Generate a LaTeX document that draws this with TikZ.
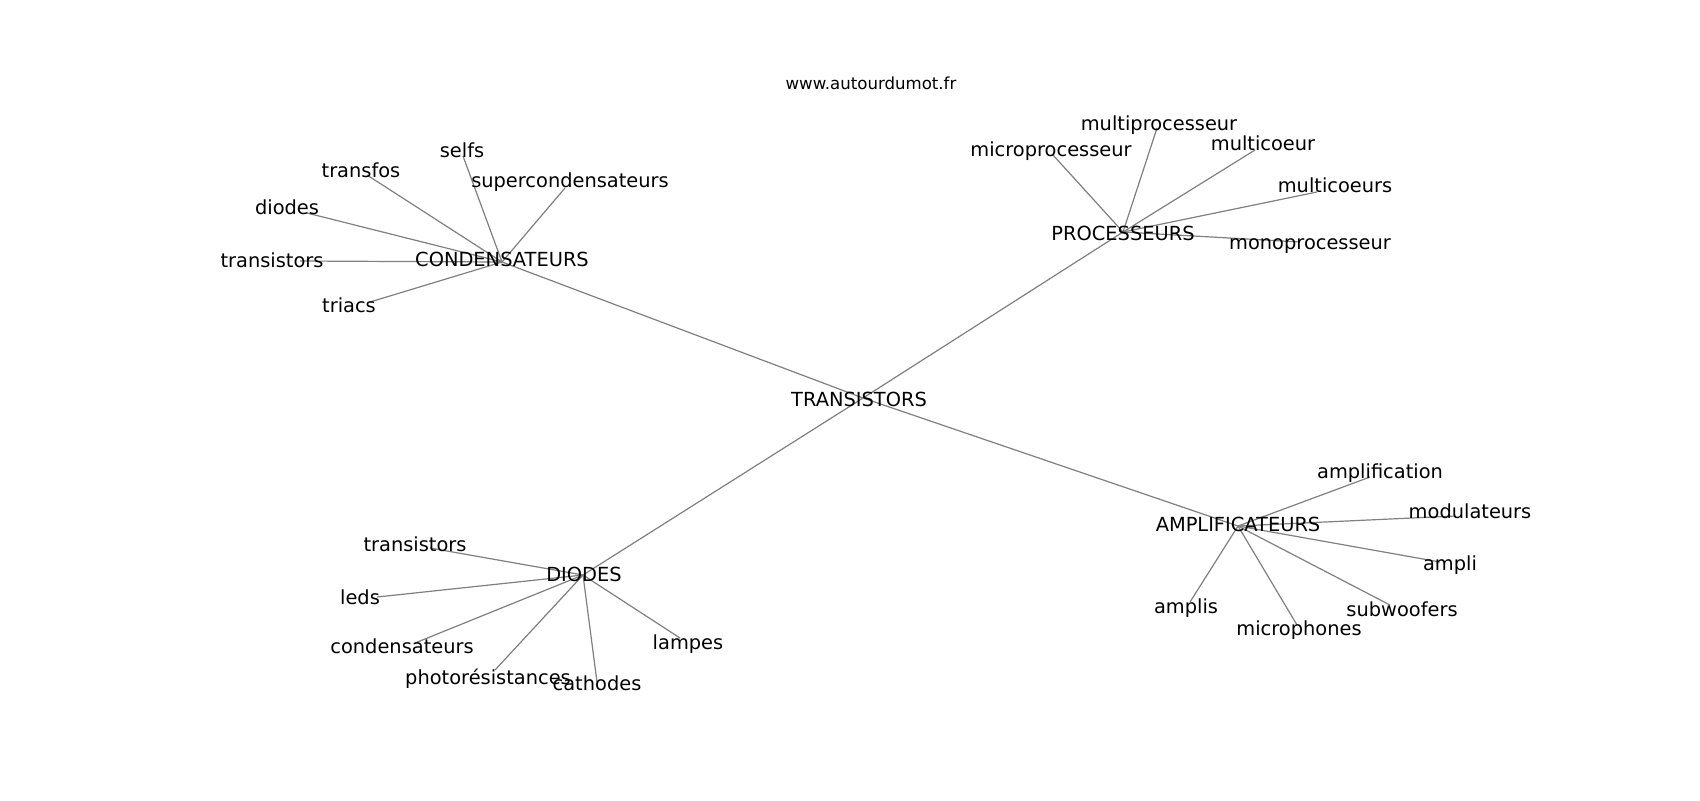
\documentclass[tikz,border=0pt]{standalone}
\usepackage{fontspec}
\setmainfont{DejaVu Sans}
\usetikzlibrary{backgrounds}
\begin{document}
\begin{tikzpicture}[x=0.5pt,y=-0.5pt,
  lbl/.style={inner sep=0pt,anchor=center,font=\fontsize{9.7}{11}\selectfont},
  ttl/.style={inner sep=0pt,anchor=center,font=\fontsize{8.3}{10}\selectfont},
  edge/.style={draw=black!50,line width=0.6pt}]
\useasboundingbox (0,0) rectangle (1700,800);
\node[ttl] (title) at (871,83) {www.autourdumot.fr};
% hub labels
\node[lbl] (T) at (859,399) {TRANSISTORS};
\node[lbl] (C) at (502,259) {CONDENSATEURS};
\node[lbl] (P) at (1123,233) {PROCESSEURS};
\node[lbl] (D) at (584,574) {DIODES};
\node[lbl] (A) at (1238,524) {AMPLIFICATEURS};
% condensateurs
\node[lbl] (c1) at (462,150) {selfs};
\node[lbl] (c2) at (361,170) {transfos};
\node[lbl] (c3) at (570,182) {supercondensateurs};
\node[lbl] (c4) at (287,207) {diodes};
\node[lbl] (c5) at (272,260) {transistors};
\node[lbl] (c6) at (349,305) {triacs};
% processeurs
\node[lbl] (p1) at (1051,151) {microprocesseur};
\node[lbl] (p2) at (1159,125) {multiprocesseur};
\node[lbl] (p3) at (1263,143) {multicoeur};
\node[lbl] (p4) at (1335,185) {multicoeurs};
\node[lbl] (p5) at (1310,246) {monoprocesseur};
% diodes
\node[lbl] (d1) at (415,544) {transistors};
\node[lbl] (d2) at (360,597) {leds};
\node[lbl] (d3) at (402,646) {condensateurs};
\node[lbl] (d4) at (488,679) {photorésistances};
\node[lbl] (d5) at (597,683) {cathodes};
\node[lbl] (d6) at (688,644) {lampes};
% amplificateurs
\node[lbl] (a1) at (1380,473) {amplification};
\node[lbl] (a2) at (1470,511) {modulateurs};
\node[lbl] (a3) at (1450,565) {ampli};
\node[lbl] (a4) at (1186,608) {amplis};
\node[lbl] (a5) at (1299,630) {microphones};
\node[lbl] (a6) at (1402,609) {subwoofers};
% graph vertices (edge end points)
\coordinate (Te) at (863,398);
\coordinate (Ce) at (502,262);
\coordinate (Pe) at (1123,232);
\coordinate (De) at (583,575);
\coordinate (Ae) at (1238,526);
\coordinate (c1e) at (463,156);
\coordinate (c2e) at (367,175);
\coordinate (c3e) at (565,188);
\coordinate (c4e) at (307,213);
\coordinate (c5e) at (300,261);
\coordinate (c6e) at (370,302);
\coordinate (p1e) at (1053,155);
\coordinate (p2e) at (1157,128);
\coordinate (p3e) at (1255,150);
\coordinate (p4e) at (1317,192);
\coordinate (p5e) at (1300,242);
\coordinate (d1e) at (430,548);
\coordinate (d2e) at (377,597);
\coordinate (d3e) at (415,643);
\coordinate (d4e) at (495,670);
\coordinate (d5e) at (597,682);
\coordinate (d6e) at (680,638);
\coordinate (a1e) at (1370,477);
\coordinate (a2e) at (1455,516);
\coordinate (a3e) at (1440,562);
\coordinate (a4e) at (1190,602);
\coordinate (a5e) at (1297,625);
\coordinate (a6e) at (1390,605);
\begin{scope}[on background layer]
\fill[white] (0,0) rectangle (1700,800);
\foreach \h in {C,P,D,A} \draw[edge] (Te) -- (\h e);
\foreach \n in {c1,c2,c3,c4,c5,c6} \draw[edge] (Ce) -- (\n e);
\foreach \n in {p1,p2,p3,p4,p5} \draw[edge] (Pe) -- (\n e);
\foreach \n in {d1,d2,d3,d4,d5,d6} \draw[edge] (De) -- (\n e);
\foreach \n in {a1,a2,a3,a4,a5,a6} \draw[edge] (Ae) -- (\n e);
\end{scope}
\end{tikzpicture}
\end{document}
